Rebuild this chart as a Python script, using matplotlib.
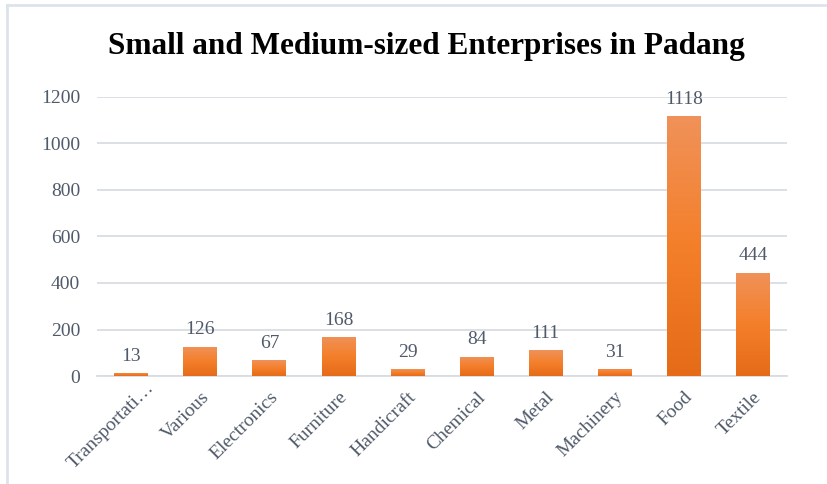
import matplotlib.pyplot as plt
import numpy as np
from matplotlib.colors import LinearSegmentedColormap
from matplotlib.lines import Line2D

categories = ["Transportati\u2026", "Various", "Electronics", "Furniture", "Handicraft",
              "Chemical", "Metal", "Machinery", "Food", "Textile"]
counts = [13, 126, 67, 168, 29, 84, 111, 31, 1118, 444]
yticks = [0, 200, 400, 600, 800, 1000, 1200]

plt.rcParams['font.family'] = ['Liberation Serif', 'DejaVu Serif']
text_col = '#505a6a'
grid_col = '#d9dde3'

fig = plt.figure(figsize=(8.27, 4.84), dpi=100)
ax = fig.add_axes([0.117, 0.223, 0.835, 0.577])

x = np.arange(len(categories))
bars = ax.bar(x, counts, width=0.49, color='#f07f2c', edgecolor='none', zorder=2)

# orange gradient inside each bar (light top, darker bottom)
cmap = LinearSegmentedColormap.from_list('og', ['#e56b18', '#f47f2a', '#f0925a'])
grad = np.linspace(0, 1, 256).reshape(-1, 1)
for b in bars:
    x0, w, h = b.get_x(), b.get_width(), b.get_height()
    im = ax.imshow(grad, cmap=cmap, origin='lower', aspect='auto',
                   extent=[x0, x0 + w, 0, h], zorder=3)
    im.set_clip_path(b)

for xi, v in zip(x, counts):
    ax.annotate(str(v), (xi, v), xytext=(0, 6), textcoords='offset points',
                ha='center', va='bottom', fontsize=14, color=text_col)

ax.set_xlim(-0.5, len(categories) - 0.5)
ax.set_ylim(0, 1200)
ax.set_yticks(yticks)
ax.set_xticks(x)
# first (truncated) label sits a bit higher/right in the original, draw it separately
ax.set_xticklabels([''] + categories[1:], rotation=45, ha='right', va='top',
                   rotation_mode='anchor', fontsize=14, color=text_col)
ax.annotate(categories[0], (x[0], 0), xycoords=('data', 'axes fraction'),
            xytext=(10, -2), textcoords='offset points', rotation=45,
            ha='right', va='top', rotation_mode='anchor', fontsize=14, color=text_col)

ax.tick_params(axis='y', length=0, pad=12, labelsize=14, labelcolor=text_col)
ax.tick_params(axis='x', length=0, pad=9)
ax.grid(axis='y', color=grid_col, linewidth=1.3, zorder=0)
ax.set_axisbelow(True)
for s in ['top', 'right', 'left']:
    ax.spines[s].set_visible(False)
ax.spines['bottom'].set_color(grid_col)
ax.spines['bottom'].set_linewidth(1.3)

fig.text(0.516, 0.903, "Small and Medium-sized Enterprises in Padang",
         ha='center', va='center', fontsize=22.5, fontweight='bold', color='black')

# chart frame
fig.add_artist(Line2D([0.008, 0.008], [0, 0.99], color='#dde3ea', linewidth=2))
fig.add_artist(Line2D([0.008, 1.0], [0.99, 0.99], color='#dde3ea', linewidth=2))

plt.savefig('out.png', dpi=100)
